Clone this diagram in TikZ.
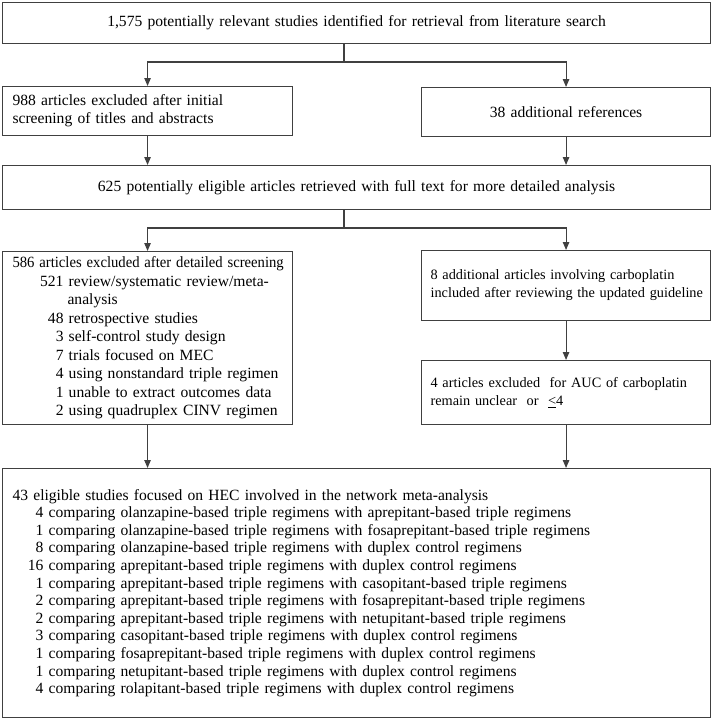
\documentclass[tikz,border=0pt]{standalone}
\usepackage{fontspec}
\setmainfont{Liberation Serif}
\usepackage{graphicx}
\usetikzlibrary{arrows.meta}
\definecolor{boxline}{RGB}{64,64,64}
\newcommand{\nitem}[3]{\makebox[#1][r]{#2}\ #3}

\begin{document}
\begin{tikzpicture}[x=1pt,y=-1pt,
    box/.style={draw=boxline, line width=1.1pt, anchor=north west, inner xsep=10pt, inner ysep=0pt,
                font=\fontsize{15.6}{18.5}\selectfont},
    leftbox/.style={box, minimum width=290pt, text width=270pt, align=left},
    rightbox/.style={box, inner xsep=9pt, minimum width=289pt, text width=271pt,
                font=\fontsize{14.3}{18}\selectfont},
    widebox/.style={box, minimum width=708pt, text width=688pt},
    conn/.style={draw=boxline, line width=1.1pt},
    arr/.style={conn, -{Triangle[length=8pt,width=6.5pt]}}]
  \useasboundingbox (0,0) rectangle (712,720);
  \node[widebox, minimum height=41pt, align=center] (search) at (2,2)
       {1,575 potentially relevant studies identified for retrieval from literature search};
  \node[leftbox, minimum height=49pt, font=\fontsize{15.6}{18}\selectfont] (excl) at (2,86)
       {988 articles excluded after initial\\screening of titles and abstracts};
  \node[rightbox, minimum height=49pt, align=center, font=\fontsize{15.6}{18}\selectfont] (addref) at (421,87)
       {38 additional references};
  \node[widebox, minimum height=44pt, align=center] (full) at (2,165)
       {625 potentially eligible articles retrieved with full text for more detailed analysis};
  \node[leftbox, minimum height=173pt] (detail) at (2,251)
       {\scalebox{0.94}[1]{586 articles excluded after detailed screening}\\
        \nitem{51pt}{521}{review/systematic review/meta-}\\
        \hspace*{55pt}analysis\\
        \nitem{51pt}{48}{retrospective studies}\\
        \nitem{51pt}{3}{self-control study design}\\
        \nitem{51pt}{7}{trials focused on MEC}\\
        \nitem{51pt}{4}{using nonstandard triple regimen}\\
        \nitem{51pt}{1}{unable to extract outcomes data}\\
        \nitem{51pt}{2}{using quadruplex CINV regimen}};
  \node[rightbox, minimum height=70pt, align=left] (carbo) at (421,250)
       {\mbox{8 additional articles involving carboplatin}\\
        \mbox{included after reviewing the updated guideline}};
  \node[rightbox, minimum height=64pt, align=left] (auc) at (421,360)
       {\mbox{4 articles excluded\ \ for AUC of carboplatin}\\
        \mbox{remain unclear\ \ or\ \ \underline{<}4}};
  \node[widebox, minimum height=249pt, align=left, font=\fontsize{15.6}{17.6}\selectfont] (nma) at (2,468)
       {43 eligible studies focused on HEC involved in the network meta-analysis\\
        \nitem{31pt}{4}{comparing olanzapine-based triple regimens with aprepitant-based triple regimens}\\
        \nitem{31pt}{1}{comparing olanzapine-based triple regimens with fosaprepitant-based triple regimens}\\
        \nitem{31pt}{8}{comparing olanzapine-based triple regimens with duplex control regimens}\\
        \nitem{31pt}{16}{comparing aprepitant-based triple regimens with duplex control regimens}\\
        \nitem{31pt}{1}{comparing aprepitant-based triple regimens with casopitant-based triple regimens}\\
        \nitem{31pt}{2}{comparing aprepitant-based triple regimens with fosaprepitant-based triple regimens}\\
        \nitem{31pt}{2}{comparing aprepitant-based triple regimens with netupitant-based triple regimens}\\
        \nitem{31pt}{3}{comparing casopitant-based triple regimens with duplex control regimens}\\
        \nitem{31pt}{1}{comparing fosaprepitant-based triple regimens with duplex control regimens}\\
        \nitem{31pt}{1}{comparing netupitant-based triple regimens with duplex control regimens}\\
        \nitem{31pt}{4}{comparing rolapitant-based triple regimens with duplex control regimens}};
  % split points below the two wide boxes
  \coordinate (s1) at (344,62);
  \coordinate (s2) at (344,228);
  \draw[conn] (s1 |- search.south) -- (s1);
  \draw[arr] (s1) -| (excl.north);
  \draw[arr] (s1) -| (addref.north);
  \draw[conn] (s2 |- full.south) -- (s2);
  \draw[arr] (s2) -| (detail.north);
  \draw[arr] (s2) -| (carbo.north);
  \foreach \a/\b in {excl/full, addref/full, detail/nma, carbo/auc, auc/nma}
    \draw[arr] (\a.south) -- (\a.south |- \b.north);
\end{tikzpicture}
\end{document}
